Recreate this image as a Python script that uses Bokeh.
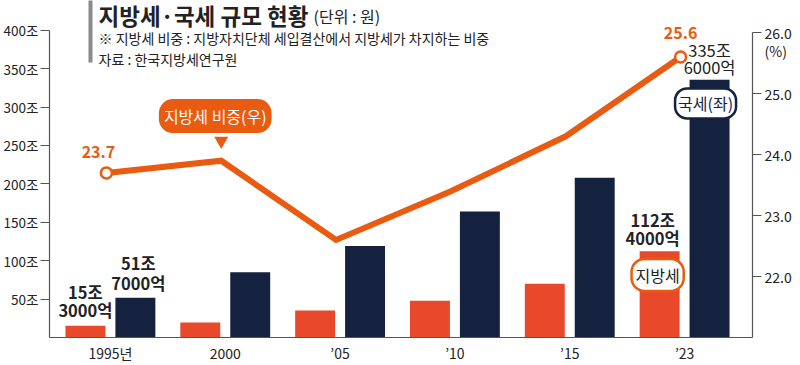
from bokeh.plotting import figure
from bokeh.models import Range1d, LinearAxis, FixedTicker, Label, BoxAnnotation, ColumnDataSource
from bokeh.transform import dodge
from bokeh.embed import file_html
from bokeh.resources import INLINE

# ---- data ----
years = ["1995년", "2000", "’05", "’10", "’15", "’23"]
local_tax = [15.3, 19.5, 35.0, 48.0, 70.0, 112.4]        # 지방세 (조원)
national_tax = [51.7, 85.0, 119.0, 164.0, 208.0, 335.6]  # 국세 (조원)
local_share = [23.7, 23.9, 22.6, 23.4, 24.3, 25.6]       # 지방세 비중 (%)
left_ticks = [50, 100, 150, 200, 250, 300, 350, 400]
right_ticks = [22, 23, 24, 25, 26]

FONT = "Noto Sans CJK KR"
ORANGE = "#E8492B"
NAVY = "#14213F"
LINE = "#E85B10"
TXT = "#222222"
AXC = "#555555"

# layout: frame spans x 48..752 and y 0..340 (value 400 sits at y=30)
FL, FB = 48.0, 340.0
X0, XPX = 109.0, 115.0
LPX = 400.0 / 310.0
R0 = 21.0
RPX = 5.04 / 310.0


def pgx(x):
    return (x - X0) / XPX


idx = list(range(len(years)))
src = ColumnDataSource(dict(idx=idx, local=local_tax, national=national_tax, share=local_share))

p = figure(width=800, height=365, x_range=Range1d(pgx(48), pgx(752)),
           y_range=Range1d(0, FB * LPX),
           output_backend="svg", toolbar_location=None, title=None,
           min_border_left=48, min_border_right=48, min_border_top=0, min_border_bottom=25)
p.extra_y_ranges = {"pct": Range1d(R0, R0 + FB * RPX)}
p.outline_line_color = None
p.xgrid.visible = False
p.ygrid.visible = False
p.background_fill_color = "white"
p.border_fill_color = "white"

# axes
p.xaxis.ticker = FixedTicker(ticks=idx)
p.xaxis.major_label_overrides = {i: y for i, y in zip(idx, years)}
p.xaxis.major_tick_line_color = None
p.xaxis.major_tick_out = 0
p.xaxis.major_tick_in = 0
p.xaxis.minor_tick_line_color = None
p.xaxis.axis_line_color = AXC
p.xaxis.axis_line_width = 1.2
p.xaxis.major_label_standoff = 5
p.xaxis.major_label_text_font = FONT
p.xaxis.major_label_text_font_size = "14px"
p.xaxis.major_label_text_color = TXT

p.yaxis.ticker = FixedTicker(ticks=left_ticks)
p.yaxis.bounds = (0, left_ticks[-1])
p.yaxis.major_label_overrides = {t: f"{t}조" for t in left_ticks}
p.yaxis.major_tick_in = 0
p.yaxis.major_tick_out = 9
p.yaxis.minor_tick_line_color = None
p.yaxis.axis_line_color = AXC
p.yaxis.major_tick_line_color = AXC
p.yaxis.axis_line_width = 1.2
p.yaxis.major_label_standoff = 2
p.yaxis.major_label_text_font = FONT
p.yaxis.major_label_text_font_size = "13.5px"
p.yaxis.major_label_text_color = TXT

# right axis: visible tick marks drawn as minor ticks, "(%)" unit as an extra label
unit_pos = right_ticks[-1] - 18 * RPX
ra_overrides = {t: f"{t:.1f}" for t in right_ticks}
ra_overrides[unit_pos] = "(%)"
ra = LinearAxis(y_range_name="pct",
                ticker=FixedTicker(ticks=right_ticks + [unit_pos], minor_ticks=right_ticks),
                major_label_overrides=ra_overrides)
ra.bounds = (R0, right_ticks[-1])
ra.major_tick_in = 0
ra.major_tick_out = 9
ra.major_tick_line_color = None
ra.minor_tick_in = 0
ra.minor_tick_out = 9
ra.minor_tick_line_color = AXC
ra.minor_tick_line_width = 1.2
ra.axis_line_color = AXC
ra.axis_line_width = 1.2
ra.major_label_standoff = 3
ra.major_label_text_font = FONT
ra.major_label_text_font_size = "14px"
ra.major_label_text_color = TXT
p.add_layout(ra, "right")

# bars
BW = 40 / XPX
OFF = 25 / XPX
p.vbar(x=dodge("idx", -OFF, range=p.x_range), top="local", width=BW, source=src,
       fill_color=ORANGE, line_color=None)
p.vbar(x=dodge("idx", OFF, range=p.x_range), top="national", width=BW, source=src,
       fill_color=NAVY, line_color=None)

# share line
LOFF = -4 / XPX
p.line(x=dodge("idx", LOFF, range=p.x_range), y="share", source=src, y_range_name="pct",
       line_color=LINE, line_width=6, line_join="miter")
ends = ColumnDataSource(dict(idx=[idx[0], idx[-1]], share=[local_share[0], local_share[-1]]))
p.scatter(x=dodge("idx", LOFF, range=p.x_range), y="share", source=ends, y_range_name="pct",
          size=11, fill_color="white", line_color=LINE, line_width=2.5)


def lab(x, y, text, size="16px", color=TXT, bold=False, align="center", yr="default", **kw):
    l = Label(x=x, y=y, text=text, text_font=FONT, text_font_size=size, text_color=color,
              text_font_style="bold" if bold else "normal", text_align=align,
              text_baseline="middle", y_range_name=yr, **kw)
    p.add_layout(l)
    return l


def slab(px, py, text, **kw):
    # label positioned in screen units relative to the frame (page pixel coords given)
    return lab(px - FL, FB - py, text, x_units="screen", y_units="screen", **kw)


def split(v):
    jo = int(v)
    eok = int(round((v - jo) * 10000))
    return f"{jo}조", f"{eok}억"


# value labels
j, e = split(local_tax[0])
lab(idx[0] - OFF, local_tax[0] + 34 * LPX, j, size="16.5px", bold=True)
lab(idx[0] - OFF, local_tax[0] + 16 * LPX, e, size="16.5px", bold=True)
j, e = split(national_tax[0])
lab(idx[0] + OFF + 3 / XPX, national_tax[0] + 35 * LPX, j, size="16.5px", bold=True)
lab(idx[0] + OFF + 3 / XPX, national_tax[0] + 15 * LPX, e, size="16.5px", bold=True)
j, e = split(local_tax[-1])
lab(idx[-1] - OFF - 7 / XPX, local_tax[-1] + 31 * LPX, j, size="16.5px", bold=True)
lab(idx[-1] - OFF - 7 / XPX, local_tax[-1] + 13 * LPX, e, size="16.5px", bold=True)
j, e = split(national_tax[-1])
lab(idx[-1] + OFF, national_tax[-1] + 30 * LPX, j, size="16.5px")
lab(idx[-1] + OFF, national_tax[-1] + 13 * LPX, e, size="16.5px")

# series tags
lab(idx[-1] - OFF - 2 / XPX, local_tax[-1] - 24 * LPX, "지방세",
    background_fill_color="white", border_line_color=LINE, border_line_width=2.5,
    border_radius=13, padding=4)
lab(idx[-1] + OFF - 4 / XPX, national_tax[-1] - 24 * LPX, "국세(좌)", color=NAVY,
    background_fill_color="white", border_line_color=NAVY, border_line_width=2.5,
    border_radius=12, padding=3)

# share labels
lab(idx[0] + LOFF - 8 / XPX, local_share[0] + 21 * RPX, f"{local_share[0]:.1f}", color=LINE,
    bold=True, yr="pct")
lab(idx[-1] + LOFF, local_share[-1] + 24 * RPX, f"{local_share[-1]:.1f}", color=LINE,
    bold=True, yr="pct")

# callout for the line
p.scatter(x=[idx[1] + LOFF], y=[local_share[1] + 20 * RPX], y_range_name="pct",
          marker="inverted_triangle", size=14, fill_color=LINE, line_color=None)
lab(idx[1] - 10 / XPX, local_share[1] + 45 * RPX, "지방세 비중(우)", color="white", yr="pct",
    background_fill_color=LINE, border_radius=14, padding=5)

# title block
p.add_layout(BoxAnnotation(left=87 - FL, right=91 - FL, top=FB - 0, bottom=FB - 65,
                           left_units="screen", right_units="screen",
                           top_units="screen", bottom_units="screen",
                           fill_color="#8a8a8a", fill_alpha=1, line_color=None))
slab(97, 17, "지방세·국세 규모 현황", size="22.5px", bold=True, align="left")
slab(312, 18, "(단위 : 원)", size="16px", align="left")
slab(97, 40, "※ 지방세 비중 : 지방자치단체 세입결산에서 지방세가 차지하는 비중", size="14px", align="left")
slab(97, 61, "자료 : 한국지방세연구원", size="14px", align="left")

open("out.html", "w").write(file_html(p, INLINE))
